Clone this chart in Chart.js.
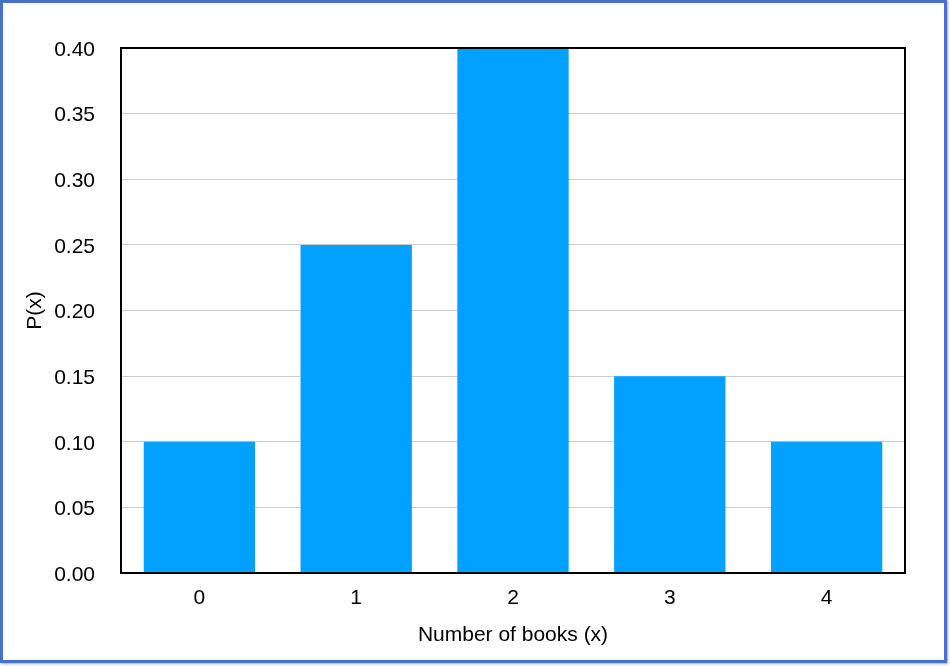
<!DOCTYPE html>
<html>
<head>
<meta charset="utf-8">
<script src="https://cdn.jsdelivr.net/npm/chart.js@4/dist/chart.umd.min.js"></script>
<style>
  html, body { margin: 0; padding: 0; background: #fff; }
  #wrap { position: relative; width: 950px; height: 666px; overflow: hidden; }
  #frame {
    position: absolute; left: 0; top: 0; width: 947px; height: 663px;
    box-sizing: border-box; border: 3px solid #4472c4;
    box-shadow: 1px 1px 2px rgba(0,0,0,0.35);
    pointer-events: none;
  }
  canvas { position: absolute; left: 0; top: 0; }
</style>
</head>
<body>
<div id="wrap">
  <canvas id="grafico" width="950" height="666"></canvas>
  <div id="frame"></div>
</div>
<script>
const categorias = ["0", "1", "2", "3", "4"];
const probabilidades = [0.10, 0.25, 0.40, 0.15, 0.10];
const ticksY = [0, 0.05, 0.10, 0.15, 0.20, 0.25, 0.30, 0.35, 0.40];

const fonte = "Helvetica, Arial, 'Liberation Sans', sans-serif";

// moldura preta em volta da área do gráfico
const molduraPlot = {
  id: "molduraPlot",
  afterDatasetsDraw(chart) {
    const { ctx, chartArea: a } = chart;
    ctx.save();
    ctx.strokeStyle = "#000";
    ctx.lineWidth = 2;
    ctx.strokeRect(a.left, a.top, a.right - a.left, a.bottom - a.top);
    ctx.restore();
  }
};

new Chart(document.getElementById("grafico").getContext("2d"), {
  type: "bar",
  data: {
    labels: categorias,
    datasets: [{
      data: probabilidades,
      backgroundColor: "#02a0ff",
      borderWidth: 0,
      categoryPercentage: 1,
      barPercentage: 0.71
    }]
  },
  options: {
    responsive: false,
    animation: false,
    layout: { padding: { top: 48, right: 45, left: 0, bottom: 0 } },
    plugins: { legend: { display: false }, tooltip: { enabled: false } },
    scales: {
      x: {
        grid: { display: false, drawTicks: false },
        border: { display: false },
        ticks: { color: "#000", font: { family: fonte, size: 21 }, padding: 13 },
        title: {
          display: true, text: "Number of books (x)", color: "#000",
          font: { family: fonte, size: 21 }, padding: { top: 0, bottom: 18 }
        },
        afterFit(scale) { scale.height = 93; }
      },
      y: {
        min: 0, max: 0.4,
        afterBuildTicks(scale) { scale.ticks = ticksY.map(v => ({ value: v })); },
        grid: { color: "#cccccc", lineWidth: 1, drawTicks: false },
        border: { display: false },
        ticks: {
          color: "#000", font: { family: fonte, size: 21 }, padding: 26,
          labelOffset: 2,
          callback: v => Number(v).toFixed(2)
        },
        title: {
          display: true, text: "P(x)", color: "#000",
          font: { family: fonte, size: 21 }, padding: { top: 23, bottom: 0 }
        },
        afterFit(scale) { scale.width = 121; }
      }
    }
  },
  plugins: [molduraPlot]
});
</script>
</body>
</html>
